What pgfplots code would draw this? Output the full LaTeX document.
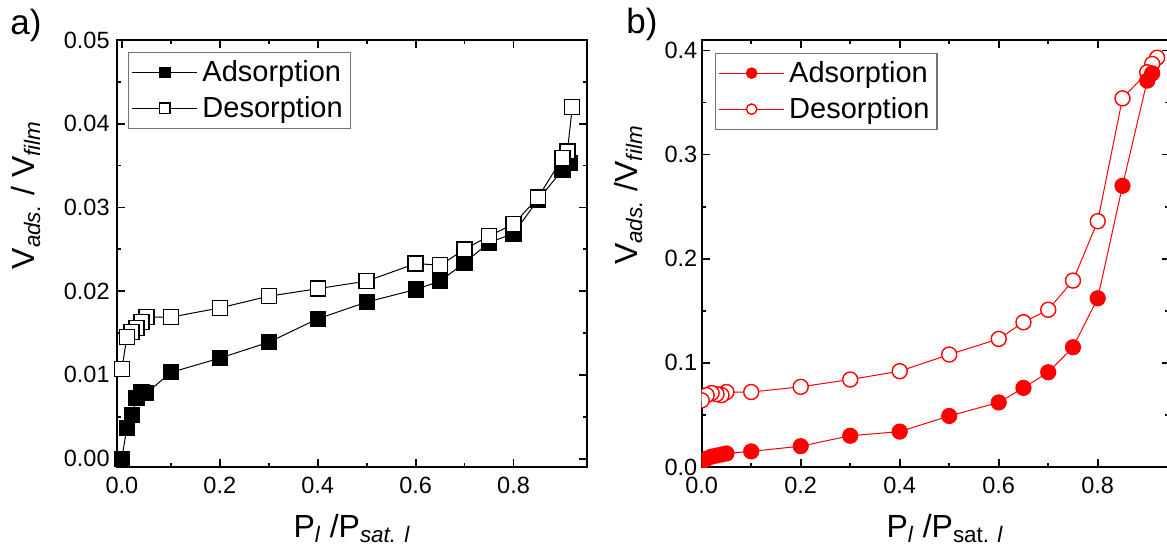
\documentclass[border=0pt]{standalone}
\usepackage{fontspec}
\setmainfont{Liberation Sans}
\usepackage{pgfplots}
\pgfplotsset{compat=1.18}

\pgfplotsset{
  iso/.style={
    scale only axis,
    height=213.5pt,
    axis line style={line width=1pt},
    every tick/.style={line width=0.9pt, black},
    major tick length=4pt,
    minor tick length=2.2pt,
    minor x tick num=1,
    minor y tick num=1,
    xtick={0,0.2,...,0.8},
    scaled y ticks=false,
    tick label style={font=\fontsize{11.75}{14}\selectfont},
    /pgf/number format/assume math mode=true,
    xticklabel style={/pgf/number format/fixed, /pgf/number format/fixed zerofill,
      /pgf/number format/precision=1, inner sep=0pt, yshift=-5pt},
    yticklabel style={inner sep=0pt, xshift=-3.5pt},
    label style={font=\fontsize{16}{19}\selectfont},
    legend cell align=left,
    legend image code/.code={
      \draw[mark repeat=2, mark phase=2, #1, mark size=2.6pt]
        plot coordinates {(0pt,0pt) (16.25pt,0pt) (32.5pt,0pt)};},
    legend style={anchor=north west, draw=black!55, line width=0.6pt,
      fill=white, inner xsep=1.5pt, inner ysep=1pt,
      font=\fontsize{14.5}{17}\selectfont,
      nodes={inner xsep=2.3pt, inner ysep=3pt}},
  },
}

\begin{document}
\begin{tikzpicture}
\useasboundingbox (0,0) rectangle (583.5pt,279.5pt);

\node[anchor=base west, inner sep=0pt, font=\fontsize{17.5}{20}\selectfont] at (5pt,262.5pt) {a)};
\node[anchor=base west, inner sep=0pt, font=\fontsize{17.5}{20}\selectfont] at (313pt,263pt) {b)};

% panel a
\begin{axis}[iso,
  at={(58.5pt,46pt)}, anchor=south west,
  width=235pt,
  xmin=-0.01, xmax=0.95,
  ymin=-0.001, ymax=0.05,
  ytick={0,0.01,...,0.05},
  yticklabel style={/pgf/number format/fixed, /pgf/number format/fixed zerofill,
    /pgf/number format/precision=2},
  xlabel={P\textsubscript{\itshape l} /P\textsubscript{\itshape sat. l}},
  ylabel={V\textsubscript{\itshape ads.} / V\textsubscript{\itshape film}},
  xlabel style={at={(axis description cs:0.5,-0.164)}, anchor=base},
  ylabel style={at={(axis description cs:-0.1745,0.637)}, anchor=base},
  legend style={at={(axis description cs:0.024,0.9726)}},
]
\addplot[black, line width=0.5pt, mark=square*, mark size=3.75pt,
  mark options={fill=black, line width=0.6pt}] coordinates {
  (0,0) (0.01,0.0037) (0.02,0.0052) (0.03,0.0072) (0.04,0.0080) (0.05,0.0078)
  (0.1,0.0103) (0.2,0.0120) (0.3,0.0139) (0.4,0.0167) (0.5,0.0187)
  (0.6,0.0202) (0.65,0.0212) (0.7,0.0234) (0.75,0.0258) (0.8,0.0269)
  (0.85,0.0309) (0.9,0.0345) (0.915,0.0353)
};
\addlegendentry{Adsorption}
\addplot[black, line width=0.5pt, mark=square*, mark size=3.75pt,
  mark options={fill=white, line width=0.7pt}] coordinates {
  (0.92,0.0420) (0.91,0.0367) (0.90,0.0359) (0.85,0.0312) (0.8,0.0280)
  (0.75,0.0266) (0.7,0.0250) (0.65,0.0231) (0.6,0.0233) (0.5,0.0212)
  (0.4,0.0203) (0.3,0.0194) (0.2,0.0180) (0.1,0.0169) (0.05,0.0169)
  (0.04,0.0163) (0.03,0.0156) (0.02,0.0151) (0.01,0.0145) (0,0.0107)
};
\addlegendentry{Desorption}
\end{axis}

% panel b
\begin{axis}[iso,
  at={(350.85pt,46pt)}, anchor=south west,
  width=233.9pt,
  xmin=0, xmax=0.945,
  ymin=0, ymax=0.41,
  ytick={0,0.1,...,0.4},
  yticklabel style={/pgf/number format/fixed, /pgf/number format/fixed zerofill,
    /pgf/number format/precision=1, xshift=1.5pt},
  clip marker paths=true,
  reverse legend,
  xlabel={P\textsubscript{\itshape l} /P\textsubscript{sat. \itshape l}},
  ylabel={V\textsubscript{\itshape ads.} /V\textsubscript{\itshape film}},
  xlabel style={at={(axis description cs:0.52,-0.164)}, anchor=base},
  ylabel style={at={(axis description cs:-0.1383,0.637)}, anchor=base},
  legend style={at={(axis description cs:0.0285,0.9707)}},
]
\addplot[red, line width=0.5pt, mark=*, mark size=3.75pt,
  mark options={fill=white, line width=0.7pt}] coordinates {
  (0.92,0.393) (0.91,0.387) (0.90,0.379) (0.85,0.354) (0.8,0.236)
  (0.75,0.179) (0.7,0.151) (0.65,0.139) (0.6,0.123) (0.5,0.108)
  (0.4,0.092) (0.3,0.084) (0.2,0.077) (0.1,0.072) (0.05,0.072)
  (0.04,0.069) (0.03,0.070) (0.02,0.071) (0.01,0.069) (0,0.064)
};
\addlegendentry{Desorption}
\addplot[red, line width=0.5pt, mark=*, mark size=3.75pt,
  mark options={fill=red, line width=0.6pt}] coordinates {
  (0,0.005) (0.01,0.008) (0.02,0.010) (0.03,0.011) (0.04,0.012) (0.05,0.013)
  (0.1,0.015) (0.2,0.020) (0.3,0.030) (0.4,0.034) (0.5,0.049)
  (0.6,0.062) (0.65,0.076) (0.7,0.091) (0.75,0.115) (0.8,0.162)
  (0.85,0.270) (0.9,0.371) (0.91,0.378)
};
\addlegendentry{Adsorption}
\end{axis}
\end{tikzpicture}
\end{document}
